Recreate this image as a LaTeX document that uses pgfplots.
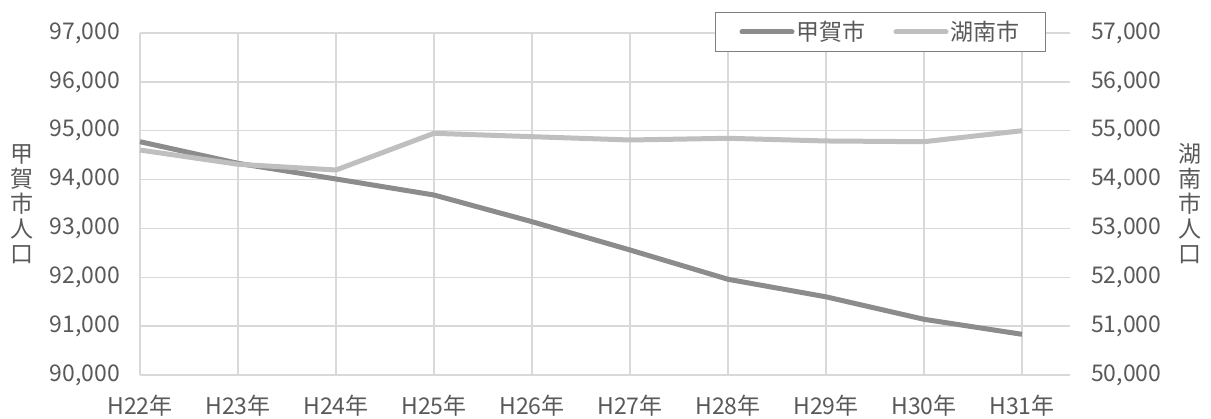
\documentclass[border=0pt]{standalone}
\usepackage{fontspec}
\setmainfont{Noto Sans CJK JP}
\usepackage{pgfplots}
\pgfplotsset{compat=1.18}
\definecolor{kdark}{HTML}{8C8C8C}
\definecolor{klight}{HTML}{BFBFBF}
\definecolor{gridc}{HTML}{D9D9D9}
\definecolor{txt}{HTML}{595959}
\definecolor{lgb}{HTML}{7F7F7F}
\pgfplotstableread{
x koka konan
0 94775 54605
1 94333 54313
2 94012 54196
3 93684 54947
4 93138 54878
5 92559 54810
6 91959 54845
7 91600 54790
8 91140 54775
9 90833 55000
}\data
\usepackage{pgfplotstable}
\begin{document}
\begin{tikzpicture}[x=1pt,y=1pt]
\path[use as bounding box] (-140,-43) rectangle (1071,375);
\pgfplotsset{
  common/.style={
    scale only axis, width=930pt, height=342pt, at={(0pt,0pt)}, anchor=south west,
    xmin=0, xmax=9.49,
    tick style={draw=none},
    ticklabel style={font=\fontsize{23}{27}\selectfont, text=txt, inner sep=0pt},
    /pgf/number format/assume math mode=true,
    /pgf/number format/1000 sep={,},
    scaled y ticks=false,
    axis line style={draw=none},
    clip=false,
  }}
\begin{axis}[common,
  ymin=90000, ymax=97000, ytick={90000,91000,...,97000},
  xtick={0,...,9},
  xticklabels={H22年,H23年,H24年,H25年,H26年,H27年,H28年,H29年,H30年,H31年},
  xticklabel style={anchor=north, yshift=-20pt},
  yticklabel style={anchor=east, xshift=-20pt},
  grid=major, major grid style={gridc, line width=1.5pt},
]
\addplot[kdark, line width=5pt, line join=round] table[x=x,y=koka]{\data};
\end{axis}
\begin{axis}[common,
  ymin=50000, ymax=57000, ytick={50000,51000,...,57000},
  axis y line*=right, axis x line=none,
  yticklabel style={anchor=west, xshift=21pt},
  legend columns=2,
  legend style={at={(rel axis cs:0.9742,1.0614)}, anchor=north east,
    draw=lgb, line width=1pt, fill=white, font=\fontsize{23}{27}\selectfont,
    text=txt, inner xsep=24pt, inner ysep=7pt,
    nodes={inner xsep=2pt},
    /tikz/every even column/.append style={column sep=26pt}},
  legend image code/.code={\draw[#1, line cap=round] (0pt,0pt) -- (50pt,0pt);},
]
\addlegendimage{kdark, line width=5pt}
\addlegendentry{甲賀市}
\addplot[klight, line width=5pt, line join=round] table[x=x,y=konan]{\data};
\addlegendentry{湖南市}
\end{axis}
\node[font=\fontsize{23}{25}\selectfont, align=center, text=txt] at (-118,171) {甲\\賀\\市\\人\\口};
\node[font=\fontsize{23}{25}\selectfont, align=center, text=txt] at (1050,171) {湖\\南\\市\\人\\口};
\end{tikzpicture}
\end{document}
